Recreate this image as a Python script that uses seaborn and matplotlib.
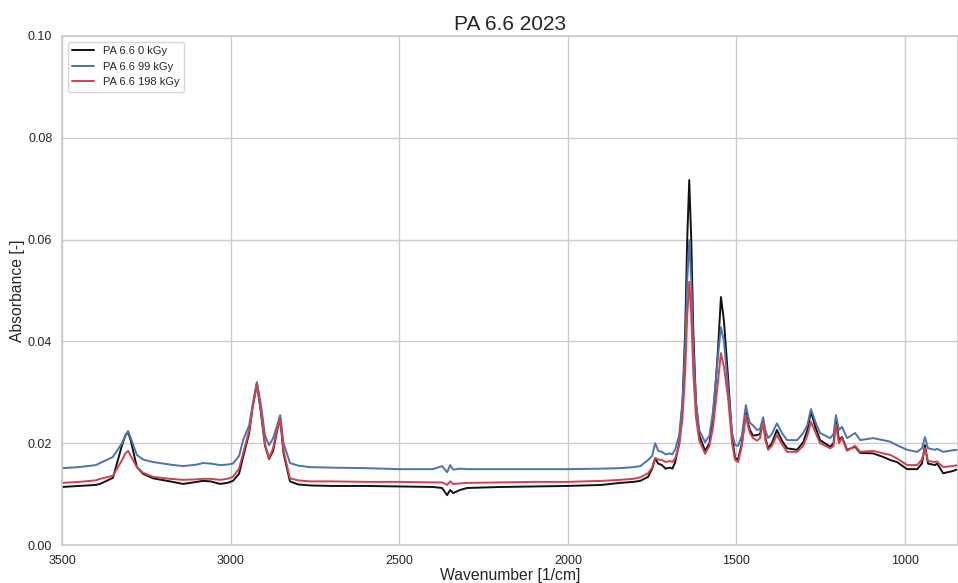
import numpy as np
import pandas as pd
import matplotlib
matplotlib.use("Agg")
import matplotlib.pyplot as plt
import seaborn as sns

wavenumber = [3500, 3450, 3400, 3387, 3349, 3322, 3312, 3304, 3296, 3278, 3260, 3230, 3180, 3141, 3100, 3082, 3060, 3031, 3010, 2993,
              2975, 2963, 2945, 2935, 2922, 2910, 2898, 2886, 2874, 2862, 2853, 2843, 2824, 2800, 2765, 2700, 2600, 2498, 2400, 2373,
              2358, 2349, 2340, 2320, 2299, 2200, 2100, 2002, 1900, 1845, 1806, 1785, 1762, 1750, 1741, 1732, 1721, 1710, 1697, 1690,
              1682, 1670, 1660, 1652, 1646, 1640, 1634, 1628, 1620, 1610, 1593, 1580, 1570, 1563, 1555, 1546, 1537, 1525, 1513, 1504,
              1495, 1484, 1472, 1466, 1460, 1451, 1439, 1430, 1421, 1414, 1406, 1395, 1380, 1365, 1350, 1320, 1302, 1290, 1279, 1265,
              1252, 1222, 1212, 1205, 1196, 1187, 1172, 1160, 1148, 1133, 1095, 1065, 1044, 1024, 994, 964, 950, 941, 932, 911,
              905, 887, 860, 843]

abs_0kGy = [0.0114, 0.0116, 0.0118, 0.0120, 0.0132, 0.0196, 0.0215, 0.0222, 0.0205, 0.0153, 0.0140, 0.0131, 0.0125, 0.0120, 0.0124, 0.0126, 0.0125, 0.0120, 0.0122, 0.0126,
            0.0140, 0.0173, 0.0220, 0.0270, 0.0318, 0.0260, 0.0195, 0.0169, 0.0185, 0.0225, 0.0249, 0.0180, 0.0125, 0.0119, 0.0117, 0.0116, 0.0116, 0.0115, 0.0114, 0.0112,
            0.0098, 0.0108, 0.0102, 0.0108, 0.0112, 0.0114, 0.0115, 0.0116, 0.0118, 0.0122, 0.0124, 0.0126, 0.0134, 0.0150, 0.0170, 0.0160, 0.0157, 0.0150, 0.0152, 0.0150,
            0.0162, 0.0200, 0.0280, 0.0420, 0.0600, 0.0717, 0.0600, 0.0420, 0.0280, 0.0215, 0.0185, 0.0200, 0.0250, 0.0305, 0.0380, 0.0487, 0.0440, 0.0330, 0.0212, 0.0171,
            0.0168, 0.0200, 0.0261, 0.0240, 0.0226, 0.0215, 0.0216, 0.0218, 0.0245, 0.0210, 0.0190, 0.0200, 0.0226, 0.0205, 0.0190, 0.0187, 0.0202, 0.0225, 0.0262, 0.0230,
            0.0206, 0.0193, 0.0200, 0.0249, 0.0206, 0.0212, 0.0187, 0.0190, 0.0193, 0.0181, 0.0180, 0.0173, 0.0167, 0.0163, 0.0149, 0.0149, 0.0160, 0.0196, 0.0160, 0.0157,
            0.0160, 0.0141, 0.0145, 0.0149]

abs_99kGy = [0.0151, 0.0153, 0.0157, 0.0161, 0.0173, 0.0200, 0.0215, 0.0224, 0.0210, 0.0177, 0.0168, 0.0163, 0.0158, 0.0155, 0.0158, 0.0161, 0.0160, 0.0157, 0.0158, 0.0160,
             0.0175, 0.0206, 0.0235, 0.0275, 0.0320, 0.0275, 0.0215, 0.0196, 0.0210, 0.0235, 0.0255, 0.0200, 0.0161, 0.0156, 0.0153, 0.0152, 0.0151, 0.0149, 0.0149, 0.0155,
             0.0143, 0.0157, 0.0148, 0.0150, 0.0149, 0.0149, 0.0149, 0.0149, 0.0150, 0.0151, 0.0153, 0.0155, 0.0167, 0.0175, 0.0200, 0.0185, 0.0183, 0.0178, 0.0180, 0.0178,
             0.0187, 0.0215, 0.0280, 0.0390, 0.0520, 0.0599, 0.0520, 0.0390, 0.0280, 0.0225, 0.0202, 0.0215, 0.0260, 0.0310, 0.0370, 0.0428, 0.0400, 0.0310, 0.0220, 0.0196,
             0.0195, 0.0215, 0.0275, 0.0255, 0.0240, 0.0235, 0.0226, 0.0228, 0.0251, 0.0225, 0.0210, 0.0218, 0.0239, 0.0220, 0.0206, 0.0206, 0.0220, 0.0235, 0.0267, 0.0240,
             0.0220, 0.0210, 0.0218, 0.0255, 0.0226, 0.0232, 0.0210, 0.0215, 0.0220, 0.0206, 0.0210, 0.0206, 0.0203, 0.0196, 0.0187, 0.0183, 0.0190, 0.0212, 0.0190, 0.0187,
             0.0189, 0.0183, 0.0186, 0.0187]

abs_198kGy = [0.0122, 0.0124, 0.0127, 0.0130, 0.0136, 0.0167, 0.0180, 0.0185, 0.0175, 0.0153, 0.0142, 0.0134, 0.0130, 0.0128, 0.0129, 0.0130, 0.0130, 0.0128, 0.0130, 0.0134,
              0.0150, 0.0180, 0.0225, 0.0270, 0.0315, 0.0262, 0.0198, 0.0171, 0.0190, 0.0228, 0.0250, 0.0185, 0.0131, 0.0127, 0.0125, 0.0125, 0.0124, 0.0124, 0.0123, 0.0123,
              0.0118, 0.0125, 0.0120, 0.0121, 0.0122, 0.0123, 0.0124, 0.0124, 0.0126, 0.0128, 0.0130, 0.0133, 0.0141, 0.0152, 0.0171, 0.0168, 0.0167, 0.0163, 0.0165, 0.0163,
              0.0170, 0.0195, 0.0250, 0.0340, 0.0450, 0.0517, 0.0450, 0.0340, 0.0250, 0.0205, 0.0179, 0.0195, 0.0230, 0.0270, 0.0320, 0.0377, 0.0350, 0.0290, 0.0200, 0.0167,
              0.0163, 0.0195, 0.0255, 0.0235, 0.0220, 0.0210, 0.0205, 0.0210, 0.0242, 0.0205, 0.0187, 0.0195, 0.0216, 0.0198, 0.0183, 0.0183, 0.0195, 0.0215, 0.0242, 0.0220,
              0.0200, 0.0190, 0.0195, 0.0236, 0.0200, 0.0210, 0.0185, 0.0190, 0.0195, 0.0183, 0.0185, 0.0180, 0.0177, 0.0170, 0.0157, 0.0157, 0.0168, 0.0190, 0.0165, 0.0163,
              0.0164, 0.0153, 0.0155, 0.0157]

series_names = ["PA 6.6 0 kGy", "PA 6.6 99 kGy", "PA 6.6 198 kGy"]
series_colors = ["#111111", "#4C72B0", "#D0434B"]
x_ticks = [3500, 3000, 2500, 2000, 1500, 1000]
y_ticks = [0.00, 0.02, 0.04, 0.06, 0.08, 0.10]

frames = []
for name, vals in zip(series_names, [abs_0kGy, abs_99kGy, abs_198kGy]):
    frames.append(pd.DataFrame({"Wavenumber": wavenumber, "Absorbance": vals, "Sample": name}))
df = pd.concat(frames, ignore_index=True)

sns.set_theme(style="whitegrid")
plt.rcParams['font.family'] = ['Liberation Sans', 'DejaVu Sans']

fig = plt.figure(figsize=(9.58, 5.83), dpi=100)
ax = fig.add_axes([62/958, 1 - 545/583, 1 - 62/958, (545 - 36)/583])
sns.lineplot(data=df, x="Wavenumber", y="Absorbance", hue="Sample", hue_order=series_names,
             palette=dict(zip(series_names, series_colors)), estimator=None, sort=False,
             linewidth=1.4, ax=ax)

ax.set_xlim(3500, 843)
ax.set_ylim(0, 0.10)
ax.set_xticks(x_ticks)
ax.set_yticks(y_ticks)
ax.set_yticklabels([f"{v:.2f}" for v in y_ticks], fontsize=9)
ax.set_xticklabels([str(v) for v in x_ticks], fontsize=9)
ax.tick_params(axis="x", pad=1)
ax.tick_params(axis="y", pad=1)
ax.set_xlabel("Wavenumber [1/cm]", fontsize=11.3, labelpad=1)
ax.set_ylabel("Absorbance [-]", fontsize=11.3, labelpad=2)
ax.set_title("PA 6.6 2023", fontsize=15, pad=4)
leg = ax.legend(loc="upper left", fontsize=8, title=None, frameon=True)

fig.savefig("out.png", dpi=100)
